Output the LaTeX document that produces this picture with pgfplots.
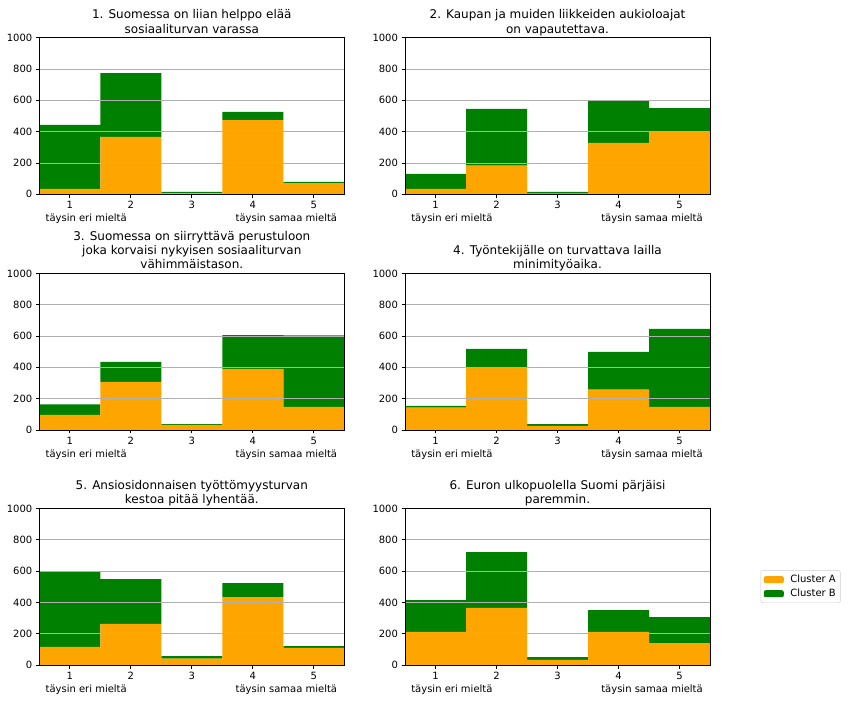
\documentclass[border=0pt]{standalone}
\usepackage{pgfplots}
\pgfplotsset{compat=1.18}
\usepackage{fontspec}
\setmainfont{DejaVu Sans}
\definecolor{cA}{HTML}{FFA500}
\definecolor{cB}{HTML}{008000}
\definecolor{gridc}{HTML}{B0B0B0}
\definecolor{legc}{HTML}{CCCCCC}
\pgfplotsset{
 likert/.style={
  width=305pt, height=156.6pt, scale only axis,
  ybar stacked, bar width=1,
  xmin=0.5, xmax=5.5, ymin=0, ymax=1000,
  xtick={1,2,3,4,5}, ytick={0,200,400,600,800,1000},
  ymajorgrids, major grid style={gridc, line width=0.8pt},
  axis on top,
  axis line style={line width=0.8pt},
  tick style={black, line width=0.8pt}, major tick length=3.5pt,
  tick align=outside, xtick pos=bottom, ytick pos=left,
  tick label style={font=\fontsize{10}{12}\selectfont},
  /pgf/number format/assume math mode=true,
  /pgf/number format/1000 sep={},
  title style={font=\fontsize{12}{14.4}\selectfont, align=center, at={(0.5,1)}, anchor=base, yshift=-1.5pt},
  clip=false,
  area legend,
  legend image code/.code={\fill[##1] (0pt,-3.5pt) rectangle (20pt,3.5pt);},
 },
}
\newcommand{\scaleends}{%
  \node[anchor=base west, inner sep=0pt, font=\fontsize{10}{12}\selectfont] at (axis cs:0.6,0) [yshift=-27.5pt] {täysin eri mieltä};
  \node[anchor=base east, inner sep=0pt, font=\fontsize{10}{12}\selectfont] at (axis cs:5.385,0) [yshift=-27.5pt] {täysin samaa mieltä};
}
\begin{document}
\begin{tikzpicture}
\useasboundingbox (0,0) rectangle (848pt,701pt);

% 1
\begin{axis}[likert, at={(39.3pt,506.7pt)}, anchor=south west,
  title={1. Suomessa on liian helppo elää\\sosiaaliturvan varassa}]
\addplot[fill=cA, draw=none] coordinates {(1,34) (2,366) (3,6) (4,474) (5,72)};
\addplot[fill=cB, draw=none] coordinates {(1,409) (2,408) (3,9) (4,52) (5,7)};
\scaleends
\end{axis}

% 2
\begin{axis}[likert, at={(405pt,506.7pt)}, anchor=south west,
  title={2. Kaupan ja muiden liikkeiden aukioloajat\\on vapautettava.}]
\addplot[fill=cA, draw=none] coordinates {(1,34) (2,183) (3,5) (4,328) (5,404)};
\addplot[fill=cB, draw=none] coordinates {(1,96) (2,362) (3,10) (4,270) (5,147)};
\scaleends
\end{axis}

% 3
\begin{axis}[likert, at={(39.3pt,271pt)}, anchor=south west,
  title={3. Suomessa on siirryttävä perustuloon\\joka korvaisi nykyisen sosiaaliturvan\\vähimmäistason.}]
\addplot[fill=cA, draw=none] coordinates {(1,96) (2,307) (3,32) (4,390) (5,147)};
\addplot[fill=cB, draw=none] coordinates {(1,68) (2,128) (3,6) (4,216) (5,458)};
\scaleends
\end{axis}

% 4
\begin{axis}[likert, at={(405pt,271pt)}, anchor=south west,
  title={4. Työntekijälle on turvattava lailla\\minimityöaika.}]
\addplot[fill=cA, draw=none] coordinates {(1,143) (2,401) (3,26) (4,258) (5,147)};
\addplot[fill=cB, draw=none] coordinates {(1,11) (2,117) (3,12) (4,241) (5,499)};
\scaleends
\end{axis}

% 5
\begin{axis}[likert, at={(39.3pt,36pt)}, anchor=south west,
  title={5. Ansiosidonnaisen työttömyysturvan\\kestoa pitää lyhentää.}]
\addplot[fill=cA, draw=none] coordinates {(1,115) (2,262) (3,40) (4,434) (5,109)};
\addplot[fill=cB, draw=none] coordinates {(1,479) (2,287) (3,17) (4,89) (5,12)};
\scaleends
\end{axis}

% 6
\begin{axis}[likert, at={(405pt,36pt)}, anchor=south west,
  title={6. Euron ulkopuolella Suomi pärjäisi\\paremmin.},
  legend style={at={(1.166,0.5)}, anchor=west, draw=legc, rounded corners=2pt,
    font=\fontsize{10}{12}\selectfont, inner xsep=3pt, inner ysep=3pt, row sep=2pt,
    nodes={inner sep=1.5pt}},
  legend cell align=left]
\addplot[fill=cA, draw=none] coordinates {(1,211) (2,364) (3,32) (4,211) (5,140)};
\addlegendentry{\hspace*{5pt}Cluster A}
\addplot[fill=cB, draw=none] coordinates {(1,204) (2,357) (3,19) (4,140) (5,166)};
\addlegendentry{\hspace*{5pt}Cluster B}
\scaleends
\end{axis}
\end{tikzpicture}
\end{document}
